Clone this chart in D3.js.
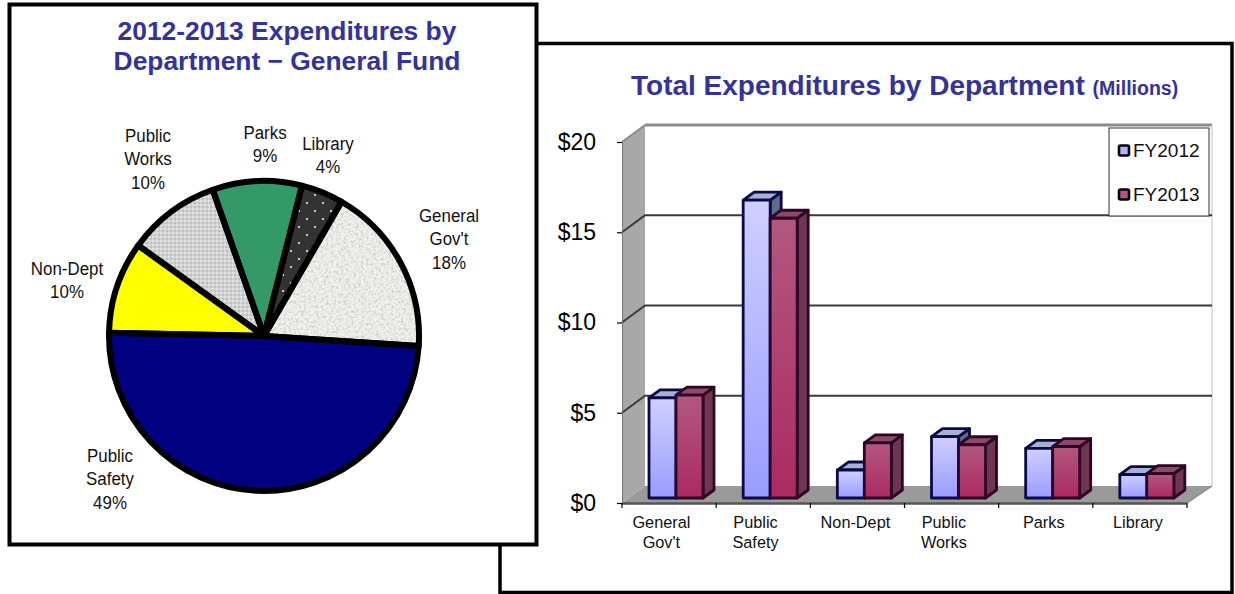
<!DOCTYPE html>
<html><head><meta charset="utf-8">
<script src="https://cdnjs.cloudflare.com/ajax/libs/d3/7.8.5/d3.min.js"></script>
<style>
html,body{margin:0;padding:0;background:#fff;overflow:hidden}
svg{display:block}
text{font-family:"Liberation Sans",Arial,sans-serif}
</style></head><body>
<svg id="c" width="1235" height="594"></svg>
<script>
// ---- data ----
const pieCategories = [["General","Gov't"],["Public","Safety"],["Non-Dept"],["Public","Works"],["Parks"],["Library"]];
const pieValues = [17.7,49.3,9.6,9.7,9.3,4.4];
const barCategories = [["General","Gov't"],["Public","Safety"],["Non-Dept"],["Public","Works"],["Parks"],["Library"]];
const seriesNames = ["FY2012","FY2013"];
const fy2012 = [5.55,16.5,1.55,3.4,2.75,1.3];
const fy2013 = [5.7,15.5,3.05,2.95,2.85,1.35];
const yTicks = [0,5,10,15,20];
const pieTitle = ["2012-2013 Expenditures by","Department \u2212 General Fund"];

const svg = d3.select("#c");
const defs = svg.append("defs");
const titleCol = "#333399";

function grad(id,stops){
  const g = defs.append("linearGradient").attr("id",id).attr("x1",0).attr("y1",0).attr("x2",0).attr("y2",1);
  stops.forEach(([o,c])=>g.append("stop").attr("offset",o).attr("stop-color",c));
}
grad("g12",[[0,"#cfcfff"],[1,"#9a9cff"]]);
grad("g13",[[0,"#b2587f"],[1,"#ab2a62"]]);

// textures
const stone = defs.append("filter").attr("id","fStone").attr("x",0).attr("y",0).attr("width","100%").attr("height","100%");
stone.append("feTurbulence").attr("type","fractalNoise").attr("baseFrequency",.4).attr("numOctaves",2).attr("seed",4).attr("result","n");
stone.append("feColorMatrix").attr("in","n").attr("type","matrix")
  .attr("values","0 0 0 0 0  0 0 0 0 0  0 0 0 0 0  2.2 0 0 0 -.95").attr("result","a");
stone.append("feFlood").attr("flood-color","#f0f0ec").attr("result","bg");
stone.append("feFlood").attr("flood-color","#c2c2be");
stone.append("feComposite").attr("in2","a").attr("operator","in").attr("result","sp");
const mg = stone.append("feMerge").attr("result","all");
mg.append("feMergeNode").attr("in","bg");
mg.append("feMergeNode").attr("in","sp");
stone.append("feComposite").attr("in","all").attr("in2","SourceAlpha").attr("operator","in");

let p = defs.append("pattern").attr("id","pDots").attr("patternUnits","userSpaceOnUse").attr("width",4).attr("height",4);
p.append("rect").attr("width",4).attr("height",4).attr("fill","#d2d2d2");
p.append("circle").attr("cx",1).attr("cy",1).attr("r",.8).attr("fill","#f4f4f4");
p.append("circle").attr("cx",3).attr("cy",3).attr("r",.8).attr("fill","#a8a8a8");
p = defs.append("pattern").attr("id","pLib").attr("patternUnits","userSpaceOnUse").attr("width",16).attr("height",16);
p.append("rect").attr("width",16).attr("height",16).attr("fill","#333333");
p.append("circle").attr("cx",3).attr("cy",3).attr("r",1.1).attr("fill","#eeeeee");
p.append("circle").attr("cx",11).attr("cy",11).attr("r",1.1).attr("fill","#eeeeee");

// ---- right panel ----
svg.append("rect").attr("x",500).attr("y",43.5).attr("width",732).attr("height",549).attr("fill","#fff").attr("stroke","#000").attr("stroke-width",3.5);

const right = svg.append("g");
const rt = right.append("text").attr("x",631).attr("y",95).attr("fill",titleCol).attr("font-weight","bold").attr("font-size",28);
rt.append("tspan").text("Total Expenditures by Department ");
rt.append("tspan").attr("font-size",19.5).text("(Millions)");

const x0 = d3.scaleBand().domain(d3.range(barCategories.length)).range([622,1187]);
const x1 = d3.scaleBand().domain(seriesNames).range([27,81]);
const y = d3.scaleLinear().domain([0,20]).range([503,142]);
const dx = 23, dy = 17;   // depth of the chart box
const bx = 11, by = 8, lift = 5; // depth of a bar
const xa = x0.range()[0], xb = x0.range()[1];

// walls
right.append("polygon").attr("fill","#a8a8a8").attr("points",[[xa,y(20)],[xa+dx,y(20)-dy],[xa+dx,y(0)-dy],[xa,y(0)]].join(" "));
right.append("polygon").attr("fill","#9a9a9a").attr("points",[[xa,y(0)],[xa+dx,y(0)-dy],[xb+dx+2,y(0)-dy],[xb,y(0)]].join(" "));
right.append("line").attr("x1",xa+dx).attr("x2",xb+dx+2).attr("y1",y(20)-dy).attr("y2",y(20)-dy).attr("stroke","#8c8c8c").attr("stroke-width",3);
right.append("line").attr("x1",xb+dx+2).attr("x2",xb+dx+2).attr("y1",y(20)-dy).attr("y2",y(0)-dy).attr("stroke","#d4d4d4").attr("stroke-width",1.5);

// gridlines
yTicks.filter(d=>d>0&&d<20).forEach(t=>{
  right.append("path").attr("fill","none").attr("stroke","#3a3a3a").attr("stroke-width",2)
   .attr("d",d3.line()([[xa,y(t)],[xa+dx,y(t)-dy],[xb+dx+2,y(t)-dy]]));
});
right.append("line").attr("x1",xa).attr("x2",xa+dx).attr("y1",y(20)).attr("y2",y(20)-dy).attr("stroke","#8c8c8c").attr("stroke-width",2);
right.append("line").attr("x1",xa).attr("x2",xb).attr("y1",y(0)+.5).attr("y2",y(0)+.5).attr("stroke","#555").attr("stroke-width",2.5);
right.append("line").attr("x1",xb).attr("x2",xb+dx+2).attr("y1",y(0)).attr("y2",y(0)-dy).attr("stroke","#8c8c8c").attr("stroke-width",1.5);

// axes
const yAxis = d3.axisLeft(y).tickValues(yTicks).tickFormat(d=>"$"+d).tickSize(5).tickPadding(21);
const ya = right.append("g").attr("transform",`translate(${xa},0)`).call(yAxis);
ya.select(".domain").attr("stroke","#777").attr("stroke-width",1);
ya.selectAll("line").attr("stroke","#000").attr("stroke-width",1.2);
ya.selectAll("text").attr("font-size",23).attr("font-family",'"Liberation Sans",Arial,sans-serif').attr("fill","#000");

const xTicks = d3.range(barCategories.length+1);
right.append("g").selectAll("line").data(xTicks).join("line")
  .attr("x1",i=>xa+i*x0.step()).attr("x2",i=>xa+i*x0.step())
  .attr("y1",y(0)).attr("y2",y(0)+5).attr("stroke","#000").attr("stroke-width",1.2);

const cl = right.append("g").selectAll("text").data(barCategories).join("text")
  .attr("text-anchor","middle").attr("font-size",16.3).attr("fill","#111");
cl.each(function(d,i){
  d3.select(this).selectAll("tspan").data(d).join("tspan")
    .attr("x",x0(i)+x0.bandwidth()/2-(d.length>1?7.7:2)).attr("y",(s,j)=>y(0)+25+j*20).text(s=>s);
});

// bars
const series = [
 {name:seriesNames[0],vals:fy2012,fill:"url(#g12)",stroke:"#0a0a46",side:"#5e6c8c",top:"#a8b0d4"},
 {name:seriesNames[1],vals:fy2013,fill:"url(#g13)",stroke:"#2d0526",side:"#6e3650",top:"#8c4a66"}
];
const drawBars = right.append("g");
barCategories.forEach((c,i)=>{
  series.forEach(s=>{
    const l = x0(i)+x1(s.name), w = x1.bandwidth(), b = y(0)-lift, t = y(s.vals[i])-lift;
    const g = drawBars.append("g").attr("stroke",s.stroke).attr("stroke-width",2.8).attr("stroke-linejoin","round");
    g.append("polygon").attr("fill",s.side).attr("points",[[l+w,t],[l+w+bx,t-by],[l+w+bx,b-by],[l+w,b]].join(" "));
    g.append("polygon").attr("fill",s.top).attr("points",[[l,t],[l+bx,t-by],[l+w+bx,t-by],[l+w,t]].join(" "));
    g.append("rect").attr("x",l).attr("y",t).attr("width",w).attr("height",b-t).attr("fill",s.fill);
  });
});

// legend
const lg = right.append("g");
lg.append("rect").attr("x",1109).attr("y",128).attr("width",100).attr("height",88).attr("fill","#fff").attr("stroke","#333").attr("stroke-width",1);
series.forEach((s,i)=>{
  lg.append("rect").attr("x",1119).attr("y",145.5+i*44).attr("width",10).attr("height",10).attr("rx",1.5)
    .attr("fill",i?"#b0567f":"#b0b4f4").attr("stroke","#050510").attr("stroke-width",2.6);
  lg.append("text").attr("x",1133).attr("y",157+i*44).attr("font-size",19).attr("fill","#111").text(s.name);
});

// ---- left panel ----
svg.append("rect").attr("x",9.5).attr("y",4.5).attr("width",527).attr("height",540).attr("fill","#fff").attr("stroke","#000").attr("stroke-width",4);
const left = svg.append("g");
left.selectAll("text.t").data(pieTitle).join("text").attr("class","t")
  .attr("x",287).attr("y",(d,i)=>40+i*30).attr("text-anchor","middle")
  .attr("font-weight","bold").attr("font-size",26.4).attr("fill",titleCol).text(d=>d);

const cx=264, cy=336, R=155;
const pie = d3.pie().sort(null).startAngle(Math.PI/6).endAngle(Math.PI/6+2*Math.PI)(pieValues);
const arc = d3.arc().innerRadius(0).outerRadius(R);
const fills = ["#f1f1ed","#000080","#ffff00","url(#pDots)","#339966","url(#pLib)"];
const pg = left.append("g").attr("transform",`translate(${cx},${cy})`);
pg.selectAll("path").data(pie).join("path").attr("d",arc)
  .attr("fill",(d,i)=>fills[i]).attr("filter",(d,i)=>i===0?"url(#fStone)":null);
pg.selectAll("path.o").data(pie).join("path").attr("class","o").attr("d",arc)
  .attr("fill","none").attr("stroke","#000").attr("stroke-width",6).attr("stroke-linejoin","round");

// pie labels, condensed like the original
const labelPos = [[449,222],[110,462],[67,275],[148,142],[265,139],[328,150]];
const pct = pieValues.map(v=>Math.round(v)+"%");
pieCategories.forEach((c,i)=>{
  const lines = c.concat([pct[i]]);
  const g = left.append("g").attr("transform",`translate(${labelPos[i][0]},${labelPos[i][1]}) scale(.88,1)`);
  g.selectAll("text").data(lines).join("text").attr("text-anchor","middle")
    .attr("y",(d,j)=>j*23.3).attr("font-size",19.2).attr("fill","#111").text(d=>d);
});
</script>
</body></html>
